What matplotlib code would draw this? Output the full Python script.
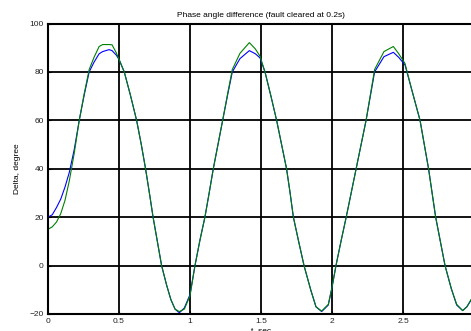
import matplotlib
matplotlib.use('Agg')
import matplotlib.pyplot as plt

# rotor angle difference after fault clearing, two model variants (shared time base)
t = [0.00, 0.03, 0.06, 0.09, 0.12, 0.15, 0.185, 0.22, 0.255, 0.29,
     0.324, 0.36, 0.385, 0.43, 0.451, 0.48, 0.50, 0.537, 0.58, 0.624,
     0.657, 0.687, 0.714, 0.74, 0.77, 0.80, 0.835, 0.865, 0.895, 0.925,
     0.96, 1.00, 1.035, 1.07, 1.105, 1.135, 1.164, 1.197, 1.23, 1.265,
     1.298, 1.352, 1.418, 1.46, 1.493, 1.528, 1.57, 1.61, 1.645, 1.68,
     1.705, 1.728, 1.765, 1.803, 1.85, 1.887, 1.927, 1.974, 2.00, 2.028,
     2.065, 2.10, 2.135, 2.17, 2.205, 2.24, 2.27, 2.30, 2.366, 2.432,
     2.47, 2.514, 2.56, 2.62, 2.65, 2.68, 2.705, 2.73, 2.763, 2.796,
     2.84, 2.878, 2.92, 2.95, 2.98]

delta_blue = [20.0, 21.0, 24.0, 27.5, 32.5, 38.5, 48.0, 60.0, 70.5, 80.0,
              84.0, 87.5, 88.4, 89.2, 88.8, 87.0, 85.2, 80.0, 70.5, 60.0,
              50.0, 40.0, 30.0, 20.0, 10.0, 0.0, -8.0, -14.0, -18.0, -19.5,
              -17.5, -12.0, 0.0, 10.5, 20.0, 30.0, 40.0, 50.0, 60.0, 70.5,
              80.0, 85.5, 88.8, 87.5, 85.8, 80.0, 70.0, 60.0, 50.0, 40.0,
              30.0, 20.0, 10.0, 0.0, -10.0, -17.0, -19.0, -16.3, -9.0, 0.0,
              10.5, 20.0, 30.0, 40.0, 50.0, 60.0, 70.0, 80.0, 86.3, 88.1,
              86.0, 82.9, 73.0, 60.0, 50.0, 40.0, 30.0, 20.0, 10.0, 0.0,
              -9.5, -16.3, -18.6, -17.0, -14.2]

delta_green = [15.0, 16.0, 18.0, 21.5, 27.0, 35.0, 46.5, 60.0, 71.0, 81.0,
               86.0, 90.5, 91.3, 91.3, 91.2, 88.0, 85.2, 80.0, 70.5, 60.0,
               50.0, 40.0, 30.0, 20.0, 10.0, 0.0, -8.0, -14.0, -18.0, -19.0,
               -18.0, -12.5, 0.0, 10.5, 20.0, 30.0, 40.0, 50.0, 60.0, 71.0,
               81.0, 87.7, 92.1, 89.5, 86.5, 80.0, 70.0, 60.0, 50.0, 40.0,
               30.0, 20.0, 10.0, 0.0, -10.0, -17.0, -18.8, -16.0, -9.0, 0.0,
               10.5, 20.0, 30.0, 40.0, 50.0, 60.0, 70.5, 81.0, 88.4, 90.5,
               87.5, 83.5, 73.0, 60.0, 50.0, 40.0, 30.0, 20.0, 10.0, 0.0,
               -9.5, -16.0, -18.6, -17.0, -14.0]

x_ticks = [0, 0.5, 1, 1.5, 2, 2.5]
x_tick_labels = ['0', '0.5', '1', '1.5', '2', '2.5']
y_ticks = [-20, 0, 20, 40, 60, 80, 100]

plt.rcParams['font.family'] = ['Liberation Sans', 'DejaVu Sans']

fig = plt.figure(figsize=(4.71, 3.31), dpi=100)
ax = fig.add_axes([48 / 471, 17 / 331, 426 / 471, 290.5 / 331])

ax.plot(t, delta_blue, color='#0000ff', lw=0.8)
ax.plot(t, delta_green, color='#008000', lw=0.8)

ax.set_xlim(0, 3)
ax.set_ylim(-20, 100)
ax.set_xticks(x_ticks)
ax.set_xticklabels(x_tick_labels)
ax.set_yticks(y_ticks)
ax.grid(True, color='black', lw=1.3)
ax.set_axisbelow(True)

for s in ax.spines.values():
    s.set_linewidth(1.5)

ax.tick_params(direction='in', length=2, width=0.8, labelsize=6,
               labelcolor='#222222', pad=3)
ax.set_title('Phase angle difference (fault cleared at 0.2s)', fontsize=6, pad=5)
ax.set_ylabel('Delta, degree', fontsize=6, labelpad=6)
# the x label sits right at the lower edge of the figure
ax.set_xlabel('t, sec', fontsize=6, labelpad=1)

fig.savefig('out.png', dpi=100)
